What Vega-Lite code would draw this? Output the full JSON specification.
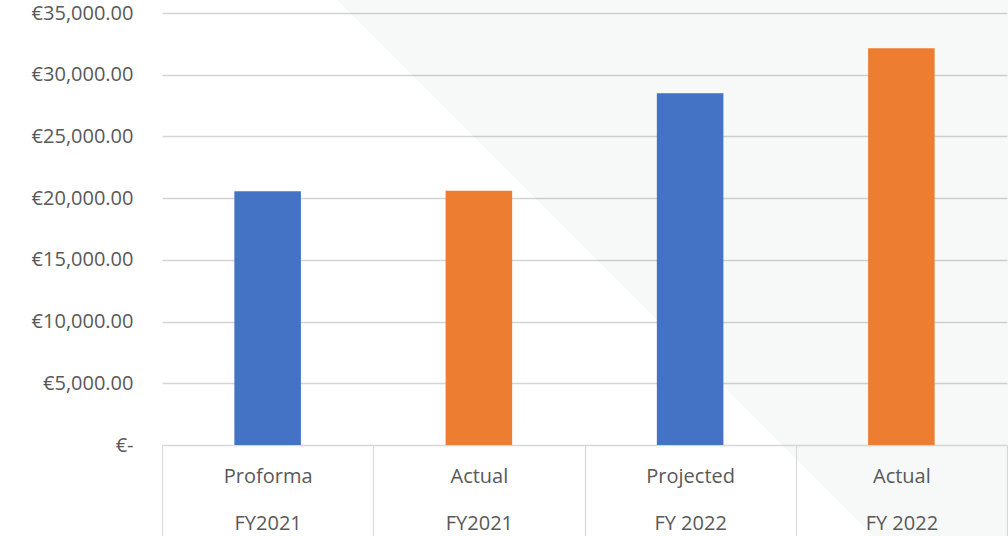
{
  "$schema": "https://vega.github.io/schema/vega-lite/v6.json",
  "autosize": {"type": "none"},
  "width": 845,
  "height": 432,
  "padding": {"left": 162, "top": 13, "right": 1, "bottom": 91},
  "background": "white",
  "config": {
    "view": {"stroke": null},
    "font": "Open Sans"
  },
  "datasets": {
    "bars": [
      {"category": "Proforma|FY2021", "kind": "Plan", "amount": 20560},
      {"category": "Actual|FY2021", "kind": "Actual", "amount": 20590},
      {"category": "Projected|FY 2022", "kind": "Plan", "amount": 28500},
      {"category": "Actual|FY 2022", "kind": "Actual", "amount": 32150}
    ],
    "shade": [
      {"pos": 0.828, "top": 36053, "bottom": 36053},
      {"pos": 3.366, "top": 36053, "bottom": -7372},
      {"pos": 4.01, "top": 36053, "bottom": -7372}
    ]
  },
  "layer": [
    {
      "data": {"name": "shade"},
      "mark": {"type": "area", "fill": "#204040", "fillOpacity": 0.035, "stroke": null},
      "encoding": {
        "x": {"field": "pos", "type": "quantitative", "scale": {"domain": [0, 4], "nice": false, "zero": false}, "axis": null},
        "y": {"field": "top", "type": "quantitative", "scale": {"domain": [0, 35000], "nice": false}},
        "y2": {"field": "bottom"}
      }
    },
    {
      "data": {"name": "bars"},
      "mark": {"type": "bar", "width": {"band": 0.315}},
      "encoding": {
        "x": {
          "field": "category",
          "type": "nominal",
          "sort": null,
          "scale": {"paddingInner": 0, "paddingOuter": 0},
          "axis": {
            "title": null,
            "orient": "bottom",
            "zindex": 1,
            "tickBand": "extent",
            "ticks": true,
            "tickSize": 91,
            "tickColor": "#d9d9d9",
            "tickWidth": 1.2,
            "domain": true,
            "domainColor": "#d9d9d9",
            "domainWidth": 1.2,
            "labelAngle": 0,
            "labelExpr": "split(datum.label, '|')",
            "labelLineHeight": 47,
            "labelBaseline": "top",
            "labelPadding": -70,
            "labelFontSize": 20,
            "labelColor": "#595959",
            "labelFont": "Open Sans"
          }
        },
        "y": {
          "field": "amount",
          "type": "quantitative",
          "scale": {"domain": [0, 35000], "nice": false},
          "axis": {
            "title": null,
            "values": [0, 5000, 10000, 15000, 20000, 25000, 30000, 35000],
            "labelExpr": "datum.value == 0 ? '€-\u00a0\u00a0' : '€' + format(datum.value, ',.2f')",
            "domain": false,
            "ticks": false,
            "labelPadding": 29,
            "labelFontSize": 20,
            "labelColor": "#595959",
            "labelFont": "Open Sans",
            "grid": true,
            "gridColor": "#d4d4d4",
            "gridWidth": 1.4
          }
        },
        "color": {
          "field": "kind",
          "type": "nominal",
          "scale": {"domain": ["Plan", "Actual"], "range": ["#4472C4", "#ED7D31"]},
          "legend": null
        }
      }
    }
  ],
  "resolve": {"scale": {"x": "independent"}}
}
